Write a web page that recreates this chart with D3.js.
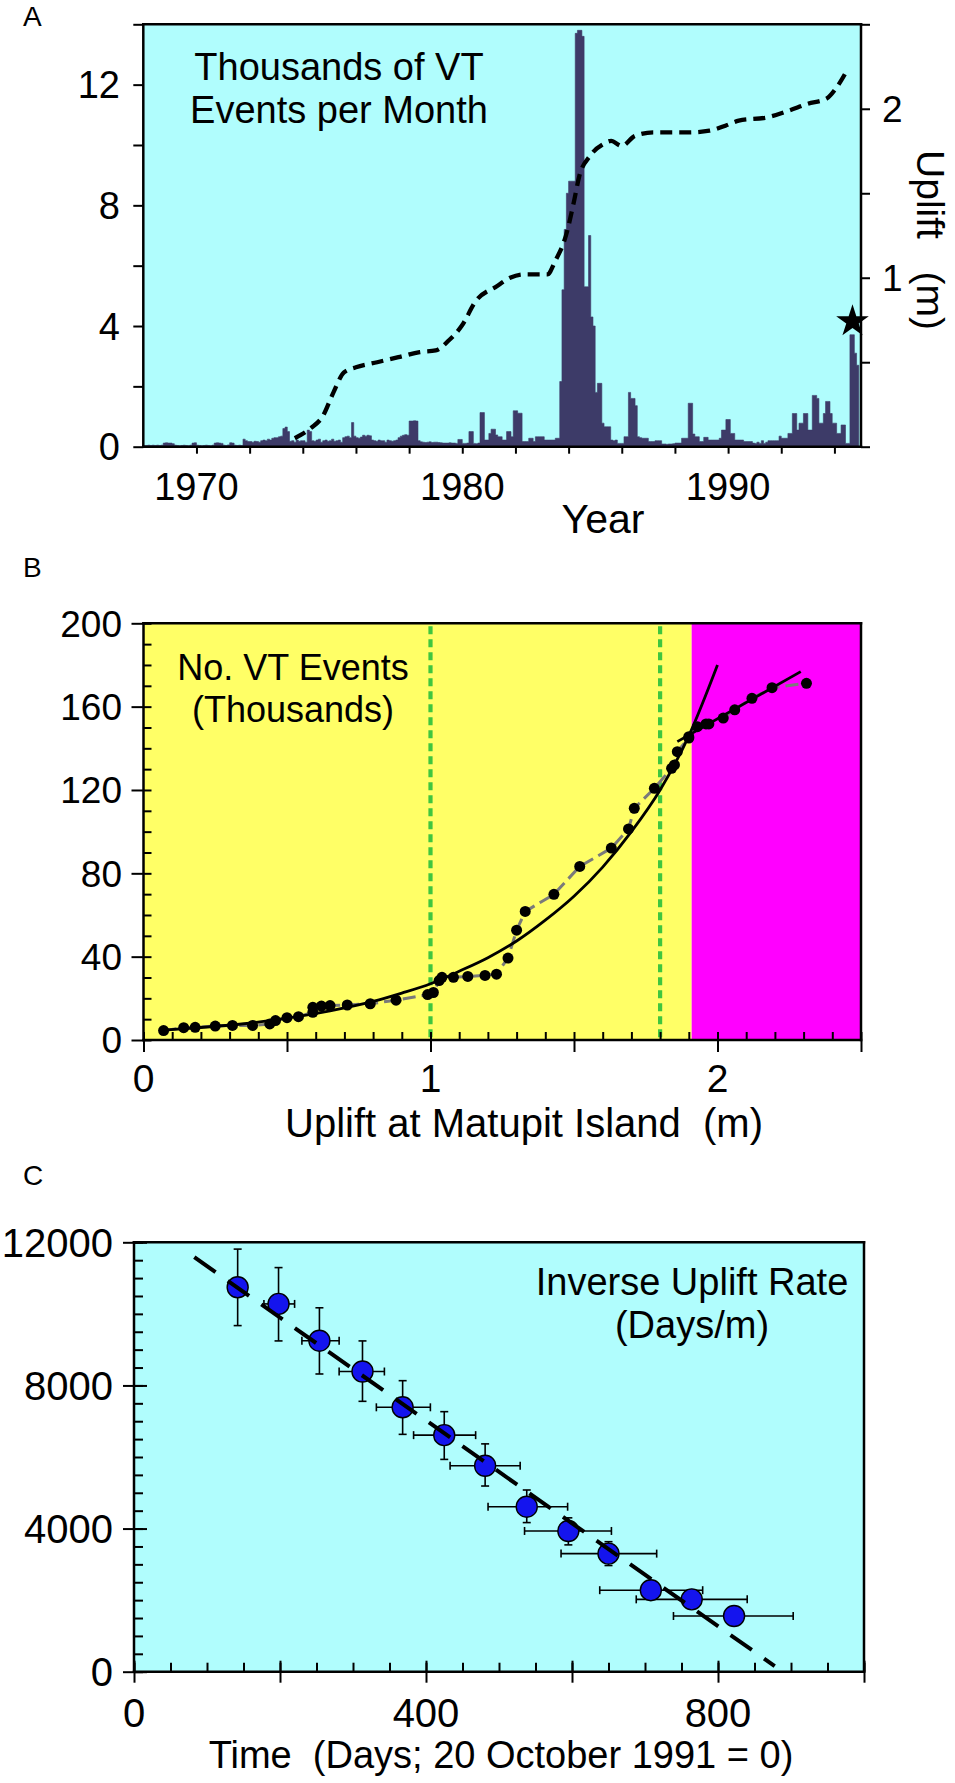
<!DOCTYPE html>
<html><head><meta charset="utf-8">
<script src="https://cdn.jsdelivr.net/npm/d3@7/dist/d3.min.js"></script>
<style>
body{margin:0;background:#fff;}
svg text{font-family:"Liberation Sans",Arial,Helvetica,sans-serif;fill:#000;white-space:pre;}
</style></head><body>
<svg id="chart" width="955" height="1783"></svg>
<script>
// ---------------- Panel A data ----------------
const vtStartYear = 1968;
const vtMonthly = [
// 1968
0.04,0.04,0.05,0.04,0.05,0.04,0.05,0.04,0.05,0.12,0.13,0.12,
// 1969
0.12,0.10,0.05,0.04,0.03,0.04,0.05,0.04,0.03,0.05,0.12,0.13,
// 1970
0.05,0.04,0.03,0.04,0.05,0.04,0.03,0.05,0.12,0.13,0.12,0.11,
// 1971
0.05,0.04,0.06,0.13,0.12,0.05,0.04,0.05,0.04,0.25,0.20,0.17,
// 1972
0.17,0.15,0.18,0.17,0.15,0.20,0.22,0.20,0.25,0.22,0.28,0.30,
// 1973
0.30,0.33,0.35,0.60,0.65,0.50,0.18,0.20,0.15,0.22,0.18,0.20,
// 1974
0.20,0.15,0.55,0.50,0.20,0.18,0.22,0.25,0.15,0.20,0.22,0.18,
// 1975
0.20,0.25,0.18,0.20,0.22,0.15,0.30,0.33,0.35,0.30,0.80,0.35,
// 1976
0.30,0.28,0.32,0.38,0.35,0.38,0.36,0.22,0.20,0.18,0.22,0.20,
// 1977
0.20,0.15,0.22,0.20,0.18,0.20,0.22,0.30,0.35,0.38,0.40,0.38,
// 1978
0.85,0.85,0.86,0.85,0.20,0.16,0.15,0.14,0.15,0.16,0.14,0.15,
// 1979
0.15,0.14,0.13,0.12,0.12,0.12,0.13,0.12,0.12,0.11,0.24,0.24,
// 1980
0.11,0.11,0.12,0.50,0.50,0.11,0.10,0.12,1.13,1.13,0.22,0.22,
// 1981
0.44,0.58,0.58,0.39,0.33,0.33,0.22,0.22,0.50,0.50,0.33,1.19,
// 1982
1.19,1.11,1.11,0.17,0.17,0.17,0.28,0.28,0.17,0.33,0.33,0.33,
// 1983
0.33,0.22,0.22,0.22,0.22,0.22,0.28,0.28,2.16,5.20,7.20,8.40,
// 1984
8.80,8.80,8.80,13.70,13.80,13.80,13.60,5.30,5.30,7.00,4.30,4.00,
// 1985
1.80,2.10,2.10,0.78,0.66,0.66,0.66,0.22,0.20,0.22,0.11,0.11,
// 1986
0.11,0.33,0.33,1.80,1.60,1.60,1.36,0.33,0.30,0.28,0.28,0.28,
// 1987
0.17,0.17,0.17,0.20,0.20,0.20,0.09,0.09,0.08,0.09,0.09,0.10,
// 1988
0.12,0.12,0.12,0.28,0.28,0.28,1.44,1.44,0.42,0.33,0.33,0.17,
// 1989
0.17,0.31,0.31,0.22,0.22,0.22,0.22,0.22,0.28,0.55,0.55,0.90,
// 1990
0.90,0.44,0.44,0.22,0.22,0.22,0.22,0.17,0.17,0.17,0.17,0.12,
// 1991
0.11,0.15,0.11,0.20,0.11,0.15,0.20,0.20,0.20,0.20,0.20,0.35,
// 1992
0.28,0.28,0.28,0.44,0.44,1.10,1.10,0.55,0.78,0.78,1.10,1.10,
// 1993
0.55,0.55,1.70,1.70,1.60,0.78,0.78,1.10,1.50,1.50,1.10,0.78,
// 1994
0.78,0.44,0.44,0.72,0.72,0.11,0.11,3.71,3.71,3.10,2.70,0
];
const upliftYear = [1973.7,1974.3,1974.75,1975.15,1975.55,1976.0,1976.8,1977.6,1978.4,1979.0,1979.5,1980.0,1980.5,1981.3,1981.8,1982.3,1983.2,1983.5,1983.9,1984.2,1984.4,1984.8,1985.3,1985.6,1986.0,1986.5,1987.2,1988.5,1989.3,1989.9,1990.4,1991.5,1992.3,1993.0,1993.7,1994.1,1994.45];
const upliftM    = [0.05,0.11,0.18,0.32,0.44,0.47,0.50,0.53,0.56,0.57,0.63,0.72,0.86,0.95,1.00,1.02,1.02,1.10,1.25,1.45,1.60,1.72,1.79,1.81,1.78,1.84,1.86,1.86,1.87,1.90,1.93,1.95,1.99,2.03,2.06,2.13,2.22];
const eruptionStar = [1994.68, 4.15];
const aLeftTicks = [0,2,4,6,8,10,12,14];
const aLeftLabels = [0,4,8,12];
const aRightTicks = [0,0.5,1,1.5,2,2.5];
const aRightLabels = [1,2];
const aYearTicks = [1970,1972,1974,1976,1978,1980,1982,1984,1986,1988,1990,1992,1994];
const aYearLabels = [1970,1980,1990];

// ---------------- Panel B data ----------------
const bUplift = [0.07,0.14,0.18,0.25,0.31,0.38,0.44,0.46,0.50,0.54,0.59,0.59,0.62,0.65,0.71,0.79,0.88,0.99,1.01,1.03,1.04,1.08,1.13,1.19,1.23,1.27,1.30,1.33,1.43,1.52,1.63,1.69,1.71,1.78,1.84,1.85,1.86,1.90,1.90,1.93,1.96,1.97,2.02,2.06,2.12,2.19,2.31];
const bEvents = [4.5,5.9,6.1,6.7,7.0,7.0,7.7,9.3,10.7,11.2,13.3,15.7,16.3,16.5,16.8,17.4,19.1,21.8,22.8,28.5,30.1,30.1,30.5,31.0,31.6,39.3,52.7,61.7,69.9,83.3,92.1,101.3,111.2,120.8,130.4,132.0,138.4,144.9,145.6,150.4,151.7,151.7,154.5,158.5,164.0,169.1,171.2];
const bFitX = [0.07,0.2,0.35,0.5,0.65,0.8,0.9,1.0,1.1,1.2,1.3,1.4,1.5,1.6,1.7,1.8,1.9,2.0];
const bFitY = [4.7,6.0,7.8,10.5,14.0,18.5,22.5,27.0,33.0,39.5,47.5,57.5,69.0,83.0,100.0,120.0,146.0,180.0];
const bLateFitX = [1.86,2.29];
const bLateFitY = [143.2,176.8];
const bPhaseLines = [1.0,1.8];
const bMagentaFrom = 1.91;
const bYTicks = [0,40,80,120,160,200];
const bXTicks = [0,1,2];

// ---------------- Panel C data ----------------
const cTime   = [142,198,254,313,368,425,481,538,595,650,708,764,822];
const cRate   = [10745,10278,9250,8389,7389,6611,5756,4611,3933,3300,2278,2022,1556];
const cRateHi = [11810,11293,10170,9244,8133,7267,6367,5078,4300,3633,2278,2022,1556];
const cRateLo = [9672,9244,8320,7556,6633,5933,5189,4167,3544,2967,2278,2022,1556];
const cTimeLo = [142,178,230,281,332,383,433,485,535,585,638,688,739];
const cTimeHi = [142,220,281,343,406,468,529,594,654,716,779,840,903];
const cFitX = [82.6,877.7];
const cFitY = [11584,156];
const cYTicks = [0,4000,8000,12000];
const cXTicks = [0,400,800];

// ================= drawing =================
const svg = d3.select("#chart");

function spine(g,x1,y1,x2,y2,w){
  g.append("line").attr("x1",x1).attr("y1",y1).attr("x2",x2).attr("y2",y2)
   .attr("stroke","#000").attr("stroke-width",w||2.5).attr("stroke-linecap","square");
}
function ticks(g, axisFn, scale, values, size, tx, ty){
  const s = g.append("g").attr("transform",`translate(${tx},${ty})`)
    .call(axisFn(scale).tickValues(values).tickSize(size).tickSizeOuter(0).tickFormat(""));
  s.select(".domain").remove();
  s.selectAll(".tick line").attr("stroke","#000").attr("stroke-width",2);
}
function range(a,b,step){ const r=[]; for(let v=a; v<=b+1e-9; v+=step) r.push(+v.toFixed(6)); return r; }

// ---------- Panel A ----------
const A = {l:143.3, r:861, t:24.3, b:446.7};
const xA = d3.scaleLinear().domain([1968,1995]).range([A.l,A.r]);
const yA = d3.scaleLinear().domain([0,14]).range([A.b,A.t]);
const yA2 = d3.scaleLinear().domain([0,2.5]).range([A.b,A.t]);
const gA = svg.append("g");
gA.append("rect").attr("x",A.l).attr("y",A.t).attr("width",A.r-A.l).attr("height",A.b-A.t).attr("fill","#b0fdfd");

const barData = vtMonthly.map((v,i)=>({x: vtStartYear + i/12, v}));
barData.push({x: vtStartYear + vtMonthly.length/12, v: vtMonthly[vtMonthly.length-1]});
gA.append("path").datum(barData)
  .attr("d", d3.area().x(d=>xA(d.x)).y0(yA(0)).y1(d=>yA(d.v)).curve(d3.curveStepAfter))
  .attr("fill","#3d3b68").attr("stroke","#3d3b68").attr("stroke-width",0.6);

gA.append("path").datum(upliftYear.map((y,i)=>[y,upliftM[i]]))
  .attr("d", d3.line().x(d=>xA(d[0])).y(d=>yA2(d[1])).curve(d3.curveMonotoneX))
  .attr("fill","none").attr("stroke","#000").attr("stroke-width",4.3).attr("stroke-dasharray","12,7");

gA.append("path").attr("d", d3.symbol(d3.symbolStar, 330)())
  .attr("transform",`translate(${xA(eruptionStar[0])},${yA(eruptionStar[1])})`).attr("fill","#000");

spine(gA, A.l, A.t, A.r, A.t);
spine(gA, A.l, A.t, A.l, A.b);
spine(gA, A.r, A.t, A.r, A.b);
spine(gA, A.l, A.b, A.r, A.b);
ticks(gA, d3.axisLeft, yA, aLeftTicks, 10, A.l, 0);
ticks(gA, d3.axisRight, yA2, aRightTicks, 9, A.r, 0);
ticks(gA, d3.axisBottom, xA, aYearTicks, 7, 0, A.b);

gA.selectAll(".ylA").data(aLeftLabels).join("text")
  .attr("x",120).attr("y",d=>yA(d)).attr("dy","0.36em").attr("text-anchor","end")
  .attr("font-size",38).text(d=>d);
gA.selectAll(".yrA").data(aRightLabels).join("text")
  .attr("x",882).attr("y",d=>yA2(d)).attr("dy","0.36em").attr("text-anchor","start")
  .attr("font-size",37).text(d=>d);
gA.selectAll(".xlA").data(aYearLabels).join("text")
  .attr("x",d=>xA(d)).attr("y",500).attr("text-anchor","middle")
  .attr("font-size",38).text(d=>d);
gA.append("text").attr("x",603).attr("y",533).attr("text-anchor","middle").attr("font-size",41).text("Year");
gA.append("text").attr("transform","translate(917,240) rotate(90)").attr("text-anchor","middle")
  .attr("font-size",39).text("Uplift   (m)");
gA.append("text").attr("x",339).attr("y",80).attr("text-anchor","middle").attr("font-size",38).text("Thousands of VT");
gA.append("text").attr("x",339).attr("y",123).attr("text-anchor","middle").attr("font-size",38).text("Events per Month");
svg.append("text").attr("x",23).attr("y",26).attr("font-size",28).text("A");

// ---------- Panel B ----------
const B = {l:143.5, r:861, t:623.3, b:1040};
const xB = d3.scaleLinear().domain([0,2.5]).range([B.l,B.r]);
const yB = d3.scaleLinear().domain([0,200]).range([B.b,B.t]);
const gB = svg.append("g");
gB.append("rect").attr("x",B.l).attr("y",B.t).attr("width",xB(bMagentaFrom)-B.l).attr("height",B.b-B.t).attr("fill","#ffff66");
gB.append("rect").attr("x",xB(bMagentaFrom)).attr("y",B.t).attr("width",B.r-xB(bMagentaFrom)).attr("height",B.b-B.t).attr("fill","#ff00ff");
gB.selectAll(".phase").data(bPhaseLines).join("line")
  .attr("x1",d=>xB(d)).attr("x2",d=>xB(d)).attr("y1",yB(200)+3).attr("y2",yB(0)-2)
  .attr("stroke","#3fc63f").attr("stroke-width",4.2).attr("stroke-dasharray","8,5");
const bPts = bUplift.map((u,i)=>[u,bEvents[i]]);
gB.append("path").datum(bPts)
  .attr("d", d3.line().x(d=>xB(d[0])).y(d=>yB(d[1])))
  .attr("fill","none").attr("stroke","#7a7a7a").attr("stroke-width",3).attr("stroke-dasharray","13,6");
gB.append("path").datum(bFitX.map((x,i)=>[x,bFitY[i]]))
  .attr("d", d3.line().x(d=>xB(d[0])).y(d=>yB(d[1])).curve(d3.curveMonotoneX))
  .attr("fill","none").attr("stroke","#000").attr("stroke-width",2.8);
gB.append("path").datum(bLateFitX.map((x,i)=>[x,bLateFitY[i]]))
  .attr("d", d3.line().x(d=>xB(d[0])).y(d=>yB(d[1])))
  .attr("fill","none").attr("stroke","#000").attr("stroke-width",2.8);
gB.selectAll(".bdot").data(bPts).join("circle")
  .attr("cx",d=>xB(d[0])).attr("cy",d=>yB(d[1])).attr("r",5.5).attr("fill","#000");

spine(gB, B.l, B.t, B.r, B.t);
spine(gB, B.r, B.t, B.r, B.b);
spine(gB, B.l, B.t, B.l, B.b);
spine(gB, B.l, B.b, B.r, B.b);
ticks(gB, d3.axisLeft, yB, bYTicks, 12, B.l, 0);
ticks(gB, d3.axisLeft, yB, range(0,200,10), -8, B.l, 0);
ticks(gB, d3.axisBottom, xB, range(0,2.5,0.5), 12, 0, B.b);
ticks(gB, d3.axisBottom, xB, range(0,2.5,0.1), -8, 0, B.b);
gB.selectAll(".ylB").data(bYTicks).join("text")
  .attr("x",122).attr("y",d=>yB(d)).attr("dy","0.36em").attr("text-anchor","end")
  .attr("font-size",37).text(d=>d);
gB.selectAll(".xlB").data(bXTicks).join("text")
  .attr("x",d=>xB(d)).attr("y",1092).attr("text-anchor","middle")
  .attr("font-size",39).text(d=>d);
gB.append("text").attr("x",524).attr("y",1137).attr("text-anchor","middle").attr("font-size",40).text("Uplift at Matupit Island  (m)");
gB.append("text").attr("x",293).attr("y",680).attr("text-anchor","middle").attr("font-size",36).text("No. VT Events");
gB.append("text").attr("x",293).attr("y",722).attr("text-anchor","middle").attr("font-size",36).text("(Thousands)");
svg.append("text").attr("x",23).attr("y",577).attr("font-size",28).text("B");

// ---------- Panel C ----------
const C = {l:134, r:864, t:1242.3, b:1671.7};
const xC = d3.scaleLinear().domain([0,1000]).range([C.l,C.r]);
const yC = d3.scaleLinear().domain([0,12000]).range([C.b,C.t]);
const gC = svg.append("g");
gC.append("rect").attr("x",C.l).attr("y",C.t).attr("width",C.r-C.l).attr("height",C.b-C.t).attr("fill","#b0fdfd");

const cPts = cTime.map((t,i)=>({t, r:cRate[i], rh:cRateHi[i], rl:cRateLo[i], tl:cTimeLo[i], th:cTimeHi[i]}));
const eb = gC.append("g").attr("stroke","#000").attr("stroke-width",1.6);
cPts.forEach(d=>{
  if (d.rh !== d.rl){
    eb.append("line").attr("x1",xC(d.t)).attr("x2",xC(d.t)).attr("y1",yC(d.rh)).attr("y2",yC(d.rl));
    [d.rh,d.rl].forEach(v=>eb.append("line").attr("x1",xC(d.t)-4).attr("x2",xC(d.t)+4).attr("y1",yC(v)).attr("y2",yC(v)));
  }
  if (d.th !== d.tl){
    eb.append("line").attr("x1",xC(d.tl)).attr("x2",xC(d.th)).attr("y1",yC(d.r)).attr("y2",yC(d.r));
    [d.tl,d.th].forEach(v=>eb.append("line").attr("x1",xC(v)).attr("x2",xC(v)).attr("y1",yC(d.r)-4).attr("y2",yC(d.r)+4));
  }
});
gC.selectAll(".cdot").data(cPts).join("circle")
  .attr("cx",d=>xC(d.t)).attr("cy",d=>yC(d.r)).attr("r",10.5)
  .attr("fill","#1414ee").attr("stroke","#000").attr("stroke-width",1.4);
gC.append("path").datum(cFitX.map((x,i)=>[x,cFitY[i]]))
  .attr("d", d3.line().x(d=>xC(d[0])).y(d=>yC(d[1])))
  .attr("fill","none").attr("stroke","#000").attr("stroke-width",4).attr("stroke-dasharray","26,15");

spine(gC, C.l, C.t, C.r, C.t);
spine(gC, C.r, C.t, C.r, C.b);
spine(gC, C.l, C.t, C.l, C.b);
spine(gC, C.l, C.b, C.r, C.b);
ticks(gC, d3.axisLeft, yC, cYTicks, 11, C.l, 0);
ticks(gC, d3.axisLeft, yC, cYTicks, -13, C.l, 0);
ticks(gC, d3.axisLeft, yC, range(0,12000,500), -9, C.l, 0);
ticks(gC, d3.axisBottom, xC, range(0,1000,200), 11, 0, C.b);
ticks(gC, d3.axisBottom, xC, range(0,1000,200), -11, 0, C.b);
ticks(gC, d3.axisBottom, xC, range(0,1000,50), -9, 0, C.b);
gC.selectAll(".ylC").data(cYTicks).join("text")
  .attr("x",113).attr("y",d=>yC(d)).attr("dy","0.36em").attr("text-anchor","end")
  .attr("font-size",40).text(d=>d);
gC.selectAll(".xlC").data(cXTicks).join("text")
  .attr("x",d=>xC(d)).attr("y",1727).attr("text-anchor","middle")
  .attr("font-size",40).text(d=>d);
gC.append("text").attr("x",501).attr("y",1768).attr("text-anchor","middle").attr("font-size",38).text("Time  (Days; 20 October 1991 = 0)");
gC.append("text").attr("x",692).attr("y",1295).attr("text-anchor","middle").attr("font-size",38).text("Inverse Uplift Rate");
gC.append("text").attr("x",692).attr("y",1338).attr("text-anchor","middle").attr("font-size",38).text("(Days/m)");
svg.append("text").attr("x",23).attr("y",1185).attr("font-size",28).text("C");
</script></body></html>
